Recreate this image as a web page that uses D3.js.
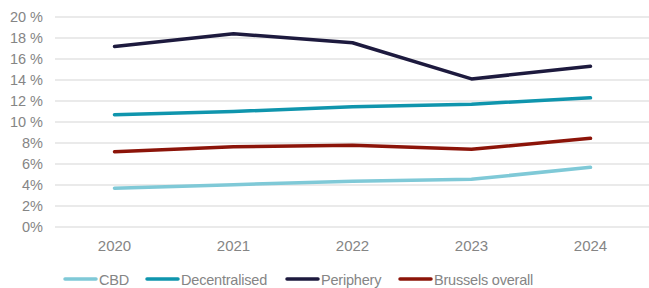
<!DOCTYPE html>
<html>
<head>
<meta charset="utf-8">
<script src="https://cdn.jsdelivr.net/npm/d3@7"></script>
<style>
  body { margin: 0; background: #fff; }
  text { font-family: "Liberation Sans", Arial, sans-serif; fill: #858585; }
</style>
</head>
<body>
<svg width="649" height="288"></svg>
<script>
var years = ["2020", "2021", "2022", "2023", "2024"]
var yTicks = [0, 2, 4, 6, 8, 10, 12, 14, 16, 18, 20]
var seriesNames = ["CBD", "Decentralised", "Periphery", "Brussels overall"]
var colors = ["#7fc9d7", "#0f95ad", "#1d1a3e", "#8c1409"]

var cbd = [3.7, 4.03, 4.35, 4.54, 5.69]
var decentralised = [10.7, 11.0, 11.45, 11.7, 12.3]
var periphery = [17.2, 18.4, 17.55, 14.1, 15.3]
var brussels = [7.17, 7.65, 7.78, 7.4, 8.45]

var allSeries = [cbd, decentralised, periphery, brussels]

var svg = d3.select("svg")

var x = d3.scaleBand().domain(years).range([55, 650])
var y = d3.scaleLinear().domain([0, 20]).range([227, 17])

// gridlines
svg.append("g").selectAll("line")
  .data(yTicks)
  .join("line")
  .attr("x1", 55).attr("x2", 649)
  .attr("y1", d => y(d)).attr("y2", d => y(d))
  .attr("stroke", "#e3e3e3")
  .attr("stroke-width", 1.3)

// y labels (excel puts a space before % on two-digit values)
svg.append("g").selectAll("text")
  .data(yTicks)
  .join("text")
  .attr("x", 43)
  .attr("y", d => y(d) + 5)
  .attr("text-anchor", "end")
  .attr("font-size", 14.5)
  .text(d => d >= 10 ? d + " %" : d + "%")

// x labels
svg.append("g").selectAll("text")
  .data(years)
  .join("text")
  .attr("x", d => x(d) + x.bandwidth() / 2)
  .attr("y", 251)
  .attr("text-anchor", "middle")
  .attr("font-size", 15)
  .text(d => d)

var line = d3.line()
  .x((d, i) => x(years[i]) + x.bandwidth() / 2)
  .y(d => y(d))

svg.append("g").selectAll("path")
  .data(allSeries)
  .join("path")
  .attr("d", d => line(d))
  .attr("fill", "none")
  .attr("stroke", (d, i) => colors[i])
  .attr("stroke-width", 3.5)
  .attr("stroke-linecap", "round")
  .attr("stroke-linejoin", "round")

// legend
var legendX = [65, 147, 287, 400]
var legend = svg.append("g").selectAll("g")
  .data(seriesNames)
  .join("g")
  .attr("transform", (d, i) => "translate(" + legendX[i] + ",279)")

legend.append("line")
  .attr("x1", 0).attr("x2", 31)
  .attr("y1", 0).attr("y2", 0)
  .attr("stroke", (d, i) => colors[i])
  .attr("stroke-width", 3.5)
  .attr("stroke-linecap", "round")

legend.append("text")
  .attr("x", 34)
  .attr("y", 5.5)
  .attr("font-size", 14.5)
  .attr("letter-spacing", -0.2)
  .text(d => d)
</script>
</body>
</html>
